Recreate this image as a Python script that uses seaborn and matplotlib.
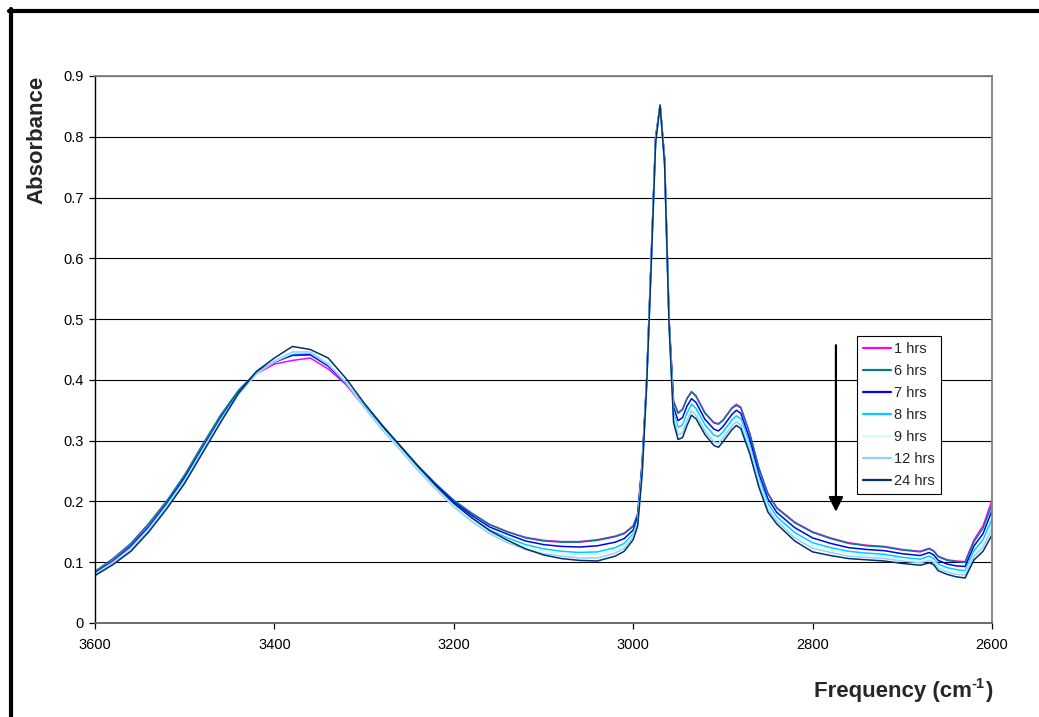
import numpy as np
import pandas as pd
import matplotlib
matplotlib.use("Agg")
import matplotlib.pyplot as plt
from matplotlib.lines import Line2D
from matplotlib.ticker import FuncFormatter
import seaborn as sns

# ---------------- data ----------------
frequency = [3600, 3580, 3560, 3540, 3520, 3500, 3480, 3460, 3440, 3420,
             3400, 3380, 3360, 3340, 3320, 3300, 3280, 3260, 3240, 3220,
             3200, 3180, 3160, 3140, 3120, 3100, 3080, 3060, 3040, 3020,
             3010, 3000, 2995, 2990, 2985, 2980, 2975, 2970, 2965, 2960,
             2955, 2950, 2945, 2940, 2935, 2930, 2920, 2910, 2905, 2900,
             2890, 2885, 2880, 2870, 2860, 2850, 2840, 2820, 2800, 2780,
             2760, 2740, 2720, 2700, 2680, 2670, 2665, 2660, 2650, 2640,
             2630, 2620, 2610, 2600]

abs_1h = [0.083, 0.103, 0.128, 0.160, 0.198, 0.240, 0.290, 0.338, 0.380, 0.410,
          0.426, 0.432, 0.436, 0.418, 0.392, 0.356, 0.322, 0.290, 0.258, 0.228,
          0.201, 0.180, 0.162, 0.150, 0.141, 0.136, 0.134, 0.134, 0.137, 0.143,
          0.148, 0.160, 0.180, 0.265, 0.400, 0.600, 0.800, 0.852, 0.765, 0.500,
          0.365, 0.346, 0.352, 0.370, 0.381, 0.374, 0.346, 0.330, 0.328, 0.334,
          0.354, 0.360, 0.355, 0.312, 0.256, 0.214, 0.190, 0.166, 0.150, 0.140,
          0.132, 0.128, 0.126, 0.121, 0.118, 0.123, 0.119, 0.110, 0.104, 0.102,
          0.101, 0.137, 0.160, 0.202]

abs_6h = [0.085, 0.106, 0.131, 0.164, 0.201, 0.244, 0.294, 0.342, 0.383, 0.413,
          0.430, 0.440, 0.441, 0.423, 0.394, 0.358, 0.324, 0.292, 0.259, 0.229,
          0.202, 0.181, 0.162, 0.150, 0.140, 0.135, 0.133, 0.133, 0.136, 0.142,
          0.147, 0.159, 0.179, 0.264, 0.400, 0.598, 0.798, 0.851, 0.764, 0.498,
          0.364, 0.345, 0.351, 0.369, 0.380, 0.373, 0.345, 0.329, 0.327, 0.333,
          0.353, 0.358, 0.354, 0.311, 0.255, 0.213, 0.189, 0.165, 0.149, 0.139,
          0.131, 0.127, 0.125, 0.120, 0.117, 0.122, 0.118, 0.109, 0.103, 0.101,
          0.100, 0.134, 0.156, 0.195]

abs_7h = [0.082, 0.101, 0.126, 0.158, 0.196, 0.239, 0.288, 0.337, 0.380, 0.412,
          0.429, 0.441, 0.442, 0.423, 0.394, 0.357, 0.322, 0.290, 0.257, 0.227,
          0.199, 0.177, 0.158, 0.146, 0.135, 0.129, 0.126, 0.125, 0.127, 0.133,
          0.139, 0.153, 0.174, 0.259, 0.397, 0.596, 0.797, 0.852, 0.762, 0.497,
          0.355, 0.333, 0.338, 0.357, 0.369, 0.363, 0.335, 0.319, 0.316, 0.323,
          0.343, 0.350, 0.345, 0.302, 0.246, 0.205, 0.182, 0.157, 0.140, 0.131,
          0.124, 0.121, 0.119, 0.114, 0.111, 0.116, 0.112, 0.103, 0.097, 0.094,
          0.093, 0.127, 0.147, 0.185]

abs_8h = [0.081, 0.100, 0.124, 0.156, 0.194, 0.236, 0.286, 0.335, 0.379, 0.411,
          0.430, 0.443, 0.444, 0.425, 0.395, 0.357, 0.321, 0.288, 0.255, 0.224,
          0.196, 0.173, 0.153, 0.140, 0.129, 0.122, 0.118, 0.116, 0.117, 0.124,
          0.131, 0.147, 0.169, 0.254, 0.394, 0.592, 0.794, 0.852, 0.759, 0.494,
          0.346, 0.322, 0.326, 0.345, 0.360, 0.353, 0.326, 0.309, 0.307, 0.314,
          0.334, 0.341, 0.336, 0.293, 0.238, 0.197, 0.175, 0.149, 0.132, 0.124,
          0.118, 0.115, 0.113, 0.108, 0.105, 0.110, 0.106, 0.097, 0.091, 0.088,
          0.086, 0.119, 0.137, 0.171]

abs_9h = [0.080, 0.099, 0.122, 0.154, 0.192, 0.234, 0.284, 0.333, 0.377, 0.410,
          0.430, 0.444, 0.445, 0.426, 0.396, 0.356, 0.320, 0.287, 0.253, 0.222,
          0.193, 0.170, 0.150, 0.136, 0.125, 0.118, 0.114, 0.112, 0.112, 0.120,
          0.127, 0.144, 0.166, 0.251, 0.393, 0.590, 0.793, 0.852, 0.758, 0.493,
          0.341, 0.315, 0.319, 0.339, 0.354, 0.347, 0.321, 0.303, 0.301, 0.309,
          0.329, 0.336, 0.331, 0.288, 0.234, 0.192, 0.171, 0.144, 0.127, 0.120,
          0.114, 0.111, 0.109, 0.105, 0.102, 0.106, 0.103, 0.093, 0.087, 0.084,
          0.082, 0.114, 0.131, 0.162]

abs_12h = [0.079, 0.098, 0.120, 0.152, 0.190, 0.232, 0.282, 0.331, 0.376, 0.410,
           0.431, 0.446, 0.446, 0.426, 0.395, 0.355, 0.318, 0.285, 0.251, 0.220,
           0.191, 0.167, 0.147, 0.132, 0.121, 0.114, 0.110, 0.107, 0.107, 0.115,
           0.123, 0.141, 0.163, 0.248, 0.392, 0.588, 0.792, 0.852, 0.757, 0.492,
           0.336, 0.310, 0.313, 0.333, 0.349, 0.342, 0.316, 0.298, 0.296, 0.304,
           0.324, 0.331, 0.326, 0.284, 0.229, 0.188, 0.168, 0.140, 0.123, 0.116,
           0.110, 0.108, 0.106, 0.102, 0.099, 0.103, 0.100, 0.090, 0.084, 0.080,
           0.079, 0.110, 0.125, 0.155]

abs_24h = [0.078, 0.096, 0.118, 0.150, 0.188, 0.230, 0.280, 0.330, 0.378, 0.414,
           0.436, 0.455, 0.450, 0.436, 0.402, 0.362, 0.326, 0.292, 0.258, 0.226,
           0.197, 0.173, 0.152, 0.136, 0.122, 0.112, 0.106, 0.103, 0.102, 0.110,
           0.118, 0.137, 0.160, 0.245, 0.390, 0.585, 0.790, 0.852, 0.755, 0.490,
           0.330, 0.302, 0.305, 0.325, 0.342, 0.336, 0.310, 0.292, 0.289, 0.298,
           0.318, 0.325, 0.320, 0.278, 0.224, 0.183, 0.163, 0.135, 0.117, 0.111,
           0.106, 0.104, 0.102, 0.098, 0.095, 0.099, 0.096, 0.086, 0.080, 0.076,
           0.074, 0.104, 0.118, 0.145]

series_labels = ["1 hrs", "6 hrs", "7 hrs", "8 hrs", "9 hrs", "12 hrs", "24 hrs"]
series_values = [abs_1h, abs_6h, abs_7h, abs_8h, abs_9h, abs_12h, abs_24h]
series_colors = ["#FF00FF", "#008080", "#0000FF", "#00CCFF", "#CCFFFF", "#99CCFF", "#003366"]

x_ticks = [3600, 3400, 3200, 3000, 2800, 2600]
y_ticks = [0, 0.1, 0.2, 0.3, 0.4, 0.5, 0.6, 0.7, 0.8, 0.9]

arrow_x = 2774
arrow_y_start = 0.457
arrow_y_end = 0.183

# ---------------- build long-form table ----------------
frames = []
for lab, vals in zip(series_labels, series_values):
    frames.append(pd.DataFrame({"Frequency": frequency, "Absorbance": vals, "Time": lab}))
df = pd.concat(frames, ignore_index=True)

# ---------------- style ----------------
sns.set_style("white")
plt.rcParams["font.family"] = ["Liberation Sans", "DejaVu Sans"]

fig = plt.figure(figsize=(10.39, 7.17), dpi=100)
fig.patch.set_facecolor("white")
ax = fig.add_axes([95 / 1039, 1 - 623 / 717, 897 / 1039, 547 / 717])

sns.lineplot(data=df, x="Frequency", y="Absorbance", hue="Time",
             hue_order=series_labels, palette=series_colors,
             estimator=None, sort=False, linewidth=1.1, ax=ax, legend=True)

ax.set_xlim(3600, 2600)
ax.set_ylim(0, 0.9)
ax.set_xticks(x_ticks)
ax.set_yticks(y_ticks)
ax.yaxis.set_major_formatter(FuncFormatter(lambda v, p: "0" if abs(v) < 1e-9 else f"{v:.1f}"))
ax.xaxis.set_major_formatter(FuncFormatter(lambda v, p: f"{int(round(v))}"))

ax.grid(axis="y", color="black", linewidth=0.8)
ax.grid(axis="x", visible=False)
ax.set_axisbelow(True)

for side in ["top", "right"]:
    ax.spines[side].set_visible(True)
    ax.spines[side].set_color("#808080")
    ax.spines[side].set_linewidth(1.3)
ax.spines["left"].set_color("black")
ax.spines["left"].set_linewidth(1.0)
ax.spines["bottom"].set_color("#606060")
ax.spines["bottom"].set_linewidth(1.3)

ax.tick_params(axis="both", which="major", direction="out", length=4, width=0.9,
               colors="black", labelsize=10.5)
ax.tick_params(axis="y", left=True, pad=4)
ax.tick_params(axis="x", bottom=True, pad=7)

ax.set_xlabel("")
ax.set_ylabel("Absorbance", fontsize=16, fontweight="bold")
ax.yaxis.label.set_va("center")
ax.yaxis.label.set_ha("center")
ax.yaxis.set_label_coords(-0.0647, 0.883)

# x-axis title with a hyphen superscript, placed right-aligned under the axis
lab_y = 1 - 691 / 717
t_close = fig.text(992 / 1039, lab_y, ")", fontsize=16, fontweight="bold",
                   ha="right", va="center")
fig.canvas.draw()
renderer = fig.canvas.get_renderer()
bb = t_close.get_window_extent(renderer)
t_sup = fig.text(bb.x0 / 1039, lab_y + 7 / 717, "-1", fontsize=10.5, fontweight="bold",
                 ha="right", va="center")
bb2 = t_sup.get_window_extent(renderer)
fig.text(bb2.x0 / 1039, lab_y, "Frequency (cm", fontsize=16, fontweight="bold",
         ha="right", va="center")

# legend
handles, labels = ax.get_legend_handles_labels()
leg = ax.legend(handles, labels, loc="upper left",
                bbox_to_anchor=((857 - 95) / 897, (623 - 336) / 547),
                borderaxespad=0, frameon=True, fancybox=False,
                fontsize=10.5, handlelength=1.9, handletextpad=0.25,
                labelspacing=0.55, borderpad=0.4)
leg.get_frame().set_edgecolor("black")
leg.get_frame().set_linewidth(0.8)
leg.get_frame().set_facecolor("white")
leg.get_frame().set_alpha(1)
for ln in leg.get_lines():
    ln.set_linewidth(1.6)

# arrow
ax.annotate("", xy=(arrow_x, arrow_y_end), xytext=(arrow_x, arrow_y_start),
            arrowprops=dict(arrowstyle="-|>", color="black", lw=1.6,
                            mutation_scale=22, shrinkA=0, shrinkB=0))

# figure border (top and left)
fig.add_artist(Line2D([9 / 1039, 1.0], [1 - 11 / 717, 1 - 11 / 717],
                      color="black", linewidth=3.0, transform=fig.transFigure))
fig.add_artist(Line2D([11 / 1039, 11 / 1039], [1 - 9 / 717, 0.0],
                      color="black", linewidth=3.0, transform=fig.transFigure))

fig.savefig("out.png", dpi=100, facecolor="white")
